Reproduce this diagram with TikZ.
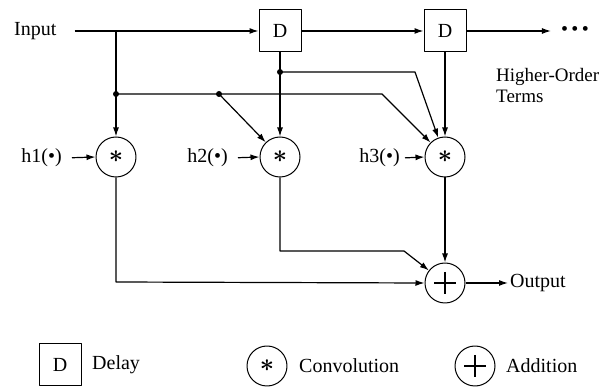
\documentclass[tikz,border=0pt]{standalone}
\usepackage{fontspec}
\setmainfont{Liberation Serif}
\usetikzlibrary{arrows.meta,calc,positioning}

\begin{document}
\begin{tikzpicture}[x=1pt,y=-1pt,>={Latex[length=9pt,width=6pt]},line join=round]
\useasboundingbox (0,0) rectangle (611,387);
\tikzset{wire/.style={draw=black,line width=1.2pt},txt/.style={inner sep=2pt,font=\fontsize{20}{20}\selectfont},delaybox/.style={draw,line width=1pt,minimum size=42pt,inner sep=0pt,font=\fontsize{20}{20}\selectfont},convnode/.style={circle,draw,line width=1pt,minimum size=40pt,inner sep=0pt,font=\fontsize{38}{38}\selectfont\boldmath},addnode/.style={circle,draw,line width=1pt,minimum size=40pt,inner sep=0pt,path picture={\draw[line width=2.3pt] ($(path picture bounding box.center)+(-11,0)$) -- ++(22,0) ($(path picture bounding box.center)+(0,-11)$) -- ++(0,22);}},tap/.style={circle,fill=black,inner sep=0pt,minimum size=6pt}}
% filter structure
\node[txt,anchor=west] (input) at (12,31) {Input};
\node[delaybox] (d1) at (280,31) {D};
\node[delaybox] (d2) at (445,31) {D};
\node[txt] (more) at (575,31) {\textbullet\,\textbullet\,\textbullet};
\node[txt,anchor=north west,align=left,font=\fontsize{19}{21}\selectfont] (hot) at (494,66) {Higher-Order\\Terms};
\node[convnode] (c1) at (116,157) {$\ast$};
\node[convnode] (c2) at (280,157) {$\ast$};
\node[convnode] (c3) at (445,157) {$\ast$};
\node[addnode] (sum) at (445,283) {};
\node[txt,anchor=east] (h1) at (64,158) {h1(•)};
\node[txt,anchor=east] (h2) at (230,158) {h2(•)};
\node[txt,anchor=east] (h3) at (402,158) {h3(•)};
\node[txt,anchor=west] (output) at (508,283) {Output};
\node[tap] (t1) at (116,94) {};
\node[tap] (t2) at (219,94) {};
\node[tap] (t3) at (280,72) {};
\coordinate (j1) at (116,31);
\coordinate (b1) at (382,94);
\coordinate (b2) at (415,72);
\coordinate (k1) at (116,282);
\coordinate (k2) at (280,251);
\coordinate (k3) at (404,251);
% connectors
\draw[wire,->,shorten <=16pt] (input.east) -- (d1.west);
\draw[wire,->] (j1) -- (c1.north);
\draw[wire,->] (d1.east) -- (d2.west);
\draw[wire,->,shorten >=8pt] (d2.east) -- (d2.east -| more.west);
\draw[wire,->] (d1.south) -- (c2.north);
\draw[wire,->] (d2.south) -- (c3.north);
\draw[wire,->] (t1.center) -- (b1) -- (c3);
\draw[wire,->] (t2.center) -- (c2);
\draw[wire,->] (t3.center) -- (b2) -- (c3);
\draw[wire,->,shorten <=8pt] (h1.east) -- (c1.west);
\draw[wire,->,shorten <=8pt] (h2.east) -- (c2.west);
\draw[wire,->,shorten <=3pt] (h3.east) -- (c3.west);
\draw[wire,->] (c1.south) -- (k1) -- (sum.west);
\draw[wire,->] (c2.south) -- (k2) -- (k3) -- (sum);
\draw[wire,->] (c3.south) -- (sum.north);
\draw[wire,->] (sum.east) -- (output.west);
% legend
\node[delaybox] (legd) at (60,365) {D};
\node[txt,anchor=west] (legdtxt) at (90,365) {Delay};
\node[convnode] (legc) at (267,366) {$\ast$};
\node[txt,anchor=west] (legctxt) at (297,366) {Convolution};
\node[addnode] (lega) at (475,366) {};
\node[txt,anchor=west] (legatxt) at (504,366) {Addition};
\end{tikzpicture}
\end{document}
